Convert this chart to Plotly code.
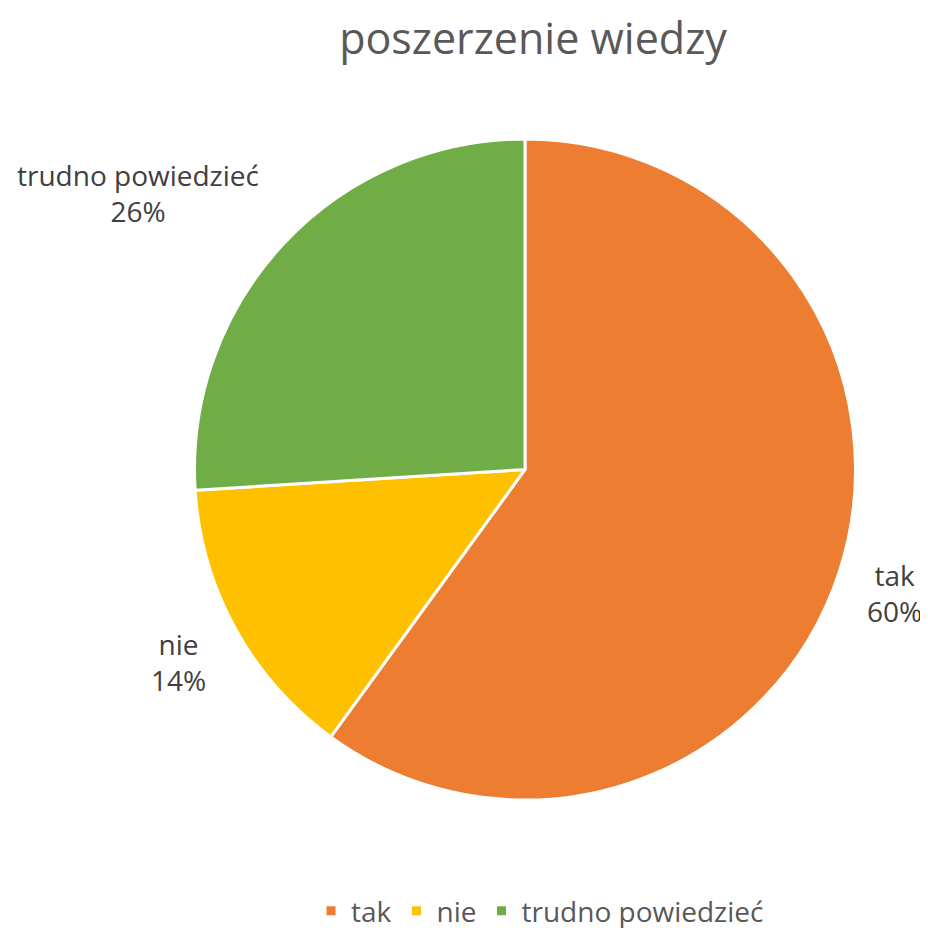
import math
import plotly.graph_objects as go

labels = ["tak", "nie", "trudno powiedzieć"]
values = [60, 14, 26]
colors = ["#ED7D31", "#FFC000", "#70AD47"]
title_text = "poszerzenie wiedzy"

W = H = 928
cx, cy, r = 525, 470, 330
# plotly draws the pie slightly offset/shrunk inside its domain; compensate
dcx, dcy, dr = cx - 8, cy - 5, r + 3
font_family = "Open Sans, Lato, sans-serif"

fig = go.Figure()
fig.add_trace(go.Pie(
    labels=labels, values=values, sort=False, direction="clockwise", rotation=0,
    marker=dict(colors=colors, line=dict(color="white", width=3)),
    textinfo="none", hoverinfo="label+percent",
    domain=dict(x=[(dcx - dr) / W, (dcx + dr) / W], y=[1 - (dcy + dr) / H, 1 - (dcy - dr) / H]),
))

# data labels placed radially from slice mid-angles
total = sum(values)
cum = 0
Rx, Ry = 360, 405
for lab, v in zip(labels, values):
    mid = (cum + v / 2) / total * 2 * math.pi
    cum += v
    dx, dy = math.sin(mid), math.cos(mid)  # dy positive = up
    px = cx + dx * Rx - 10
    py = cy - dy * Ry - 6
    fig.add_annotation(
        x=px / W, y=1 - py / H, xref="paper", yref="paper",
        text=f"{lab}<br>{round(v / total * 100)}%", showarrow=False, align="center",
        xanchor="left" if dx > 0 else "right", yanchor="middle",
        font=dict(family=font_family, size=28, color="#404040"),
    )

fig.update_layout(
    width=W, height=H, margin=dict(l=0, r=0, t=0, b=0),
    paper_bgcolor="white", plot_bgcolor="white",
    title=dict(text=title_text, x=cx / W, y=1 - 31 / H, xanchor="center", yanchor="middle",
               font=dict(family=font_family, size=43, color="#595959")),
    legend=dict(orientation="h", x=532 / W, xanchor="center", y=1 - 910 / H, yanchor="middle",
                font=dict(family=font_family, size=28, color="#595959"), traceorder="normal"),
    showlegend=True,
)
fig.write_html("out.html")
